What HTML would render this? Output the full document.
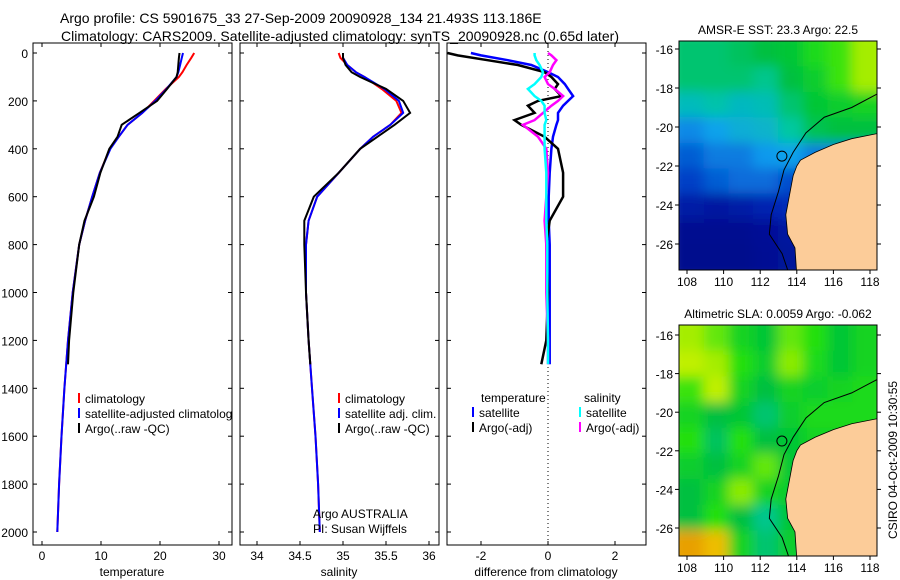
<!DOCTYPE html>
<html><head><meta charset="utf-8"><style>
html,body{margin:0;padding:0;background:#fff;}
svg{display:block;font-family:"Liberation Sans",sans-serif;}
</style></head><body>
<svg id="fig" width="900" height="580" viewBox="0 0 900 580" xmlns="http://www.w3.org/2000/svg">
<defs>
<clipPath id="c1"><rect x="33" y="43" width="199" height="502"/></clipPath>
<clipPath id="c2"><rect x="240" y="43" width="199" height="502"/></clipPath>
<clipPath id="c3"><rect x="447" y="43" width="199" height="502"/></clipPath>
<clipPath id="m1"><rect x="679" y="41" width="198" height="229"/></clipPath>
<clipPath id="m2"><rect x="679" y="325" width="198" height="231"/></clipPath>
<filter id="bl" x="-5%" y="-5%" width="110%" height="110%"><feGaussianBlur stdDeviation="6"/></filter>
</defs>
<text x="60" y="23" font-size="14" text-anchor="start">Argo profile: CS 5901675_33 27-Sep-2009 20090928_134 21.493S 113.186E</text>
<text x="340" y="41" font-size="14" text-anchor="middle" textLength="558">Climatology: CARS2009. Satellite-adjusted climatology: synTS_20090928.nc (0.65d later)</text>
<g id="g"></g>
</svg>
<script>
const depths=[0,20,50,80,100,150,200,250,300,350,400,500,600,700,800,1000,1200,1400,1600,1800,2000];
const climT=[25.8,25.3,24.5,23.8,23.2,21,19,17,14.5,13,11.5,9.8,8.5,7.3,6.3,5.2,4.4,3.8,3.3,2.9,2.6];
const satT=[23.9,23.7,23.4,23.1,22.8,21.1,19.2,17,14.5,13,11.6,9.8,8.5,7.3,6.3,5.2,4.4,3.8,3.3,2.9,2.6];
const argoDepths=[0,20,50,80,100,150,200,250,300,350,400,500,600,700,800,1000,1200,1300];
const argoT=[23.3,23.2,23.1,23,22.8,21.2,19.5,16.5,13.5,12.8,11.4,9.9,8.8,7.2,6.3,5.3,4.6,4.4];
const climS=[34.95,34.97,35.05,35.15,35.25,35.45,35.62,35.68,35.55,35.35,35.2,34.95,34.7,34.6,34.57,34.57,34.6,34.64,34.68,34.71,34.73];
const satS=[35.0,35.0,35.05,35.15,35.25,35.48,35.65,35.7,35.55,35.35,35.2,34.95,34.7,34.6,34.57,34.57,34.6,34.64,34.68,34.71,34.73];
const argoS=[35.0,35.0,35.03,35.1,35.2,35.5,35.7,35.78,35.6,35.4,35.2,34.95,34.66,34.55,34.55,34.57,34.6,34.62];
const diffDepths=[0,10,30,50,80,100,130,150,180,200,220,250,280,300,350,400,500,600,700,800,1000,1200,1300];
const satDT=[-2.3,-2.0,-1.2,-0.5,0,0.3,0.5,0.6,0.75,0.6,0.45,0.3,0.3,0.25,0.15,0.1,0.05,0.02,0.02,0.05,0.05,0.05,0.05];
const argoDT=[-3.0,-2.7,-1.8,-0.9,-0.1,0.1,0.3,0.2,0.4,-0.3,-0.6,-0.4,-1.0,-0.8,-0.1,0.3,0.45,0.45,0.05,-0.05,0,-0.05,-0.2];
const satDS=[-0.4,-0.4,-0.35,-0.25,-0.15,-0.2,-0.4,-0.6,-0.4,-0.2,-0.1,-0.1,-0.05,-0.1,-0.1,-0.1,-0.05,-0.05,-0.05,-0.02,-0.02,0,0];
const argoDS=[0,0.1,0.25,0.15,0.05,-0.1,0,0.2,0.45,0.3,0.1,-0.15,-0.4,-0.75,-0.3,-0.05,0,-0.05,-0.1,-0.05,-0.05,0,0];
const depthTicks=[0,200,400,600,800,1000,1200,1400,1600,1800,2000];
const tTicks=[0,10,20,30];
const sTicks=["34","34.5","35","35.5","36"];
const dTicks=[-2,0,2];
const lonTicks=[108,110,112,114,116,118];
const latTicks=[-16,-18,-20,-22,-24,-26];
const sstGrid=[
[.55,.55,.57,.6,.62,.68,.72,.8],
[.55,.55,.55,.52,.6,.64,.72,.8],
[.45,.48,.44,.46,.55,.62,.64,.66],
[.32,.36,.4,.42,.5,.58,.6,.6],
[.26,.3,.3,.34,.36,.3,.3,.3],
[.22,.26,.28,.28,.24,.2,.2,.2],
[.12,.1,.12,.15,.18,.12,.1,.1],
[.05,.05,.05,.07,.1,.1,.1,.1],
[.04,.04,.04,.06,.08,.1,.1,.1]];
const slaGrid=[
[.8,.75,.66,.62,.75,.7,.62,.66],
[.82,.8,.7,.64,.78,.68,.62,.66],
[.72,.82,.66,.6,.66,.64,.66,.68],
[.66,.6,.62,.55,.64,.68,.68,.68],
[.7,.57,.7,.6,.62,.66,.66,.66],
[.64,.6,.66,.75,.62,.62,.62,.62],
[.6,.66,.78,.66,.64,.6,.6,.6],
[.6,.7,.6,.52,.62,.6,.6,.6],
[.95,.92,.66,.55,.64,.6,.6,.6]];
const coast=[[118.6,-20.3],[117,-20.6],[116,-20.9],[115,-21.3],[114.2,-21.7],[114,-22.0],[113.8,-22.5],[113.6,-23.5],[113.4,-24.5],[113.5,-25.5],[113.9,-26.2],[114.0,-27.6],[118.7,-27.6]];
const shelf=[[118.6,-18.2],[117,-19.0],[115.5,-19.5],[114.5,-20.3],[113.8,-21.3],[113.3,-22.2],[113,-23.3],[112.6,-24.5],[112.5,-25.5],[113.2,-26.5],[113.6,-27.6]];
const floatPos=[113.186,-21.493];

const NS="http://www.w3.org/2000/svg";
const G=document.getElementById('g');
function el(t,a,p){const e=document.createElementNS(NS,t);for(const k in a)e.setAttribute(k,a[k]);(p||G).appendChild(e);return e;}
function txt(x,y,s,sz,anc,p){const e=el('text',{x:x,y:y,'font-size':sz,'text-anchor':anc||'start'},p);e.textContent=s;return e;}
const yD=d=>53+d*0.2395;
const panels=[
 {x0:33,xs:v=>42+v*5.9,clip:'c1',ticks:tTicks,label:'temperature'},
 {x0:240,xs:v=>300+(v-34.5)*86,clip:'c2',ticks:sTicks,label:'salinity'},
 {x0:447,xs:v=>548+v*33.5,clip:'c3',ticks:dTicks,label:'difference from climatology'}];
panels.forEach((p,i)=>{
 const f=el('rect',{x:p.x0,y:43,width:199,height:502,fill:'none',stroke:'#000','stroke-width':1});
 
 
 depthTicks.forEach(d=>{
  el('line',{x1:p.x0,x2:p.x0+4,y1:yD(d),y2:yD(d),stroke:'#000'});
  el('line',{x1:p.x0+199,x2:p.x0+195,y1:yD(d),y2:yD(d),stroke:'#000'});
  if(i==0){const t=txt(28,yD(d)+5,String(d),12,'end');}
 });
 p.ticks.forEach(v=>{const x=p.xs(+v);
  el('line',{x1:x,x2:x,y1:545,y2:541,stroke:'#000'});el('line',{x1:x,x2:x,y1:43,y2:47,stroke:'#000'});
  const t=txt(x,560,String(v),12,'middle');});
 const lt=txt(p.x0+99,576,p.label,12,'middle');
 
 
});
function line(xs,ds,vals,col,name,clip,w){
 const g=el('g',{'clip-path':'url(#'+clip+')'});
 const pts=vals.map((v,i)=>xs(v).toFixed(1)+','+yD(ds[i]).toFixed(1)).join(' ');
 const pl=el('polyline',{points:pts,fill:'none',stroke:col,'stroke-width':w||2},g);
 
 
}
el('line',{x1:548,x2:548,y1:43,y2:545,stroke:'#000','stroke-dasharray':'1,3'});
line(panels[0].xs,depths,climT,'#f00','clim-temperature-line','c1');
line(panels[0].xs,depths,satT,'#00f','sat-temperature-line','c1');
line(panels[0].xs,argoDepths,argoT,'#000','argo-temperature-line','c1');
line(panels[1].xs,depths,climS,'#f00','clim-salinity-line','c2');
line(panels[1].xs,depths,satS,'#00f','sat-salinity-line','c2');
line(panels[1].xs,argoDepths,argoS,'#000','argo-salinity-line','c2');
line(panels[2].xs,diffDepths,satDT,'#00f','sat-temp-diff-line','c3',2.5);
line(panels[2].xs,diffDepths,argoDT,'#000','argo-temp-diff-line','c3',2.5);
line(panels[2].xs,diffDepths,argoDS,'#f0f','argo-sal-diff-line','c3',2.5);
line(panels[2].xs,diffDepths,satDS,'#0ff','sat-sal-diff-line','c3',2.5);
function legend(x,y,col,s,clip){const g=el('g',{'clip-path':'url(#'+clip+')'});
 el('line',{x1:x,x2:x,y1:y-10,y2:y,stroke:col,'stroke-width':2},g);
 const t=txt(x+6,y,s,12,'start',g);
 
 }
legend(79,403,'#f00','climatology','c1');legend(79,418,'#00f','satellite-adjusted climatology','c1');legend(79,433,'#000','Argo(..raw -QC)','c1');
legend(339,403,'#f00','climatology','c2');legend(339,418,'#00f','satellite adj. clim.','c2');legend(339,433,'#000','Argo(..raw -QC)','c2');
txt(481,402,'temperature',12);txt(584,402,'salinity',12);
legend(473,417,'#00f','satellite','c3');legend(473,432,'#000','Argo(-adj)','c3');
legend(580,417,'#0ff','satellite','c3');legend(580,432,'#f0f','Argo(-adj)','c3');
txt(313,518,'Argo AUSTRALIA',12);txt(313,533,'PI: Susan Wijffels',12);

function cmap(v){const s=[[0,[0,0,128]],[.2,[0,48,192]],[.35,[16,160,240]],[.5,[0,200,160]],[.6,[0,192,64]],[.7,[32,224,16]],[.82,[192,240,0]],[.9,[240,208,0]],[1,[224,112,0]]];
 for(let i=1;i<s.length;i++)if(v<=s[i][0]){const a=s[i-1],b=s[i],t=(v-a[0])/(b[0]-a[0]);return 'rgb('+a[1].map((c,k)=>Math.round(c+(b[1][k]-c)*t)).join(',')+')';}return 'rgb(224,112,0)';}
function map(top,bot,lat16,lat26,grid,clip,title,name){
 const lx=v=>687+(v-108)*18.3, ly=v=>lat16+(-v-16)*(lat26-lat16)/10;
 const g=el('g',{'clip-path':'url(#'+clip+')'});
 
 
 const f=el('g',{filter:'url(#bl)'},g);
 const rows=grid.length,cols=grid[0].length,cw=198/cols,ch=(bot-top)/rows;
 grid.forEach((r,i)=>r.forEach((v,j)=>el('rect',{x:679+j*cw-(j==0?10:0),y:top+i*ch-(i==0?10:0),width:cw+1+(j==0||j==cols-1?10:0),height:ch+1+(i==0||i==rows-1?10:0),fill:cmap(v)},f)));
 el('polyline',{points:shelf.map(p=>lx(p[0])+','+ly(p[1])).join(' '),fill:'none',stroke:'#000','stroke-width':1},g);
 el('polygon',{points:coast.map(p=>lx(p[0])+','+ly(p[1])).join(' '),fill:'#fccc99',stroke:'#000','stroke-width':0.8},g);
 el('circle',{cx:lx(floatPos[0]),cy:ly(floatPos[1]),r:5,fill:'none',stroke:'#000'},g);
 el('rect',{x:679,y:top,width:198,height:bot-top,fill:'none',stroke:'#000'});
 lonTicks.forEach(v=>{el('line',{x1:lx(v),x2:lx(v),y1:bot,y2:bot+4,stroke:'#000'});txt(lx(v),bot+16,String(v),12,'middle');});
 latTicks.forEach(v=>{el('line',{x1:675,x2:679,y1:ly(v),y2:ly(v),stroke:'#000'});el('line',{x1:877,x2:881,y1:ly(v),y2:ly(v),stroke:'#000'});txt(673,ly(v)+5,String(v),12,'end');});
 txt(778,top-7,title,12,'middle');
}
map(41,270,49,244,sstGrid,'m1','AMSR-E SST: 23.3 Argo: 22.5','sst-map');
map(325,556,335,528,slaGrid,'m2','Altimetric SLA: 0.0059 Argo: -0.062','sla-map');
const ts=txt(0,0,'CSIRO 04-Oct-2009 10:30:55',12,'middle');
ts.setAttribute('transform','translate(897,460) rotate(-90)');


</script>
</body></html>
